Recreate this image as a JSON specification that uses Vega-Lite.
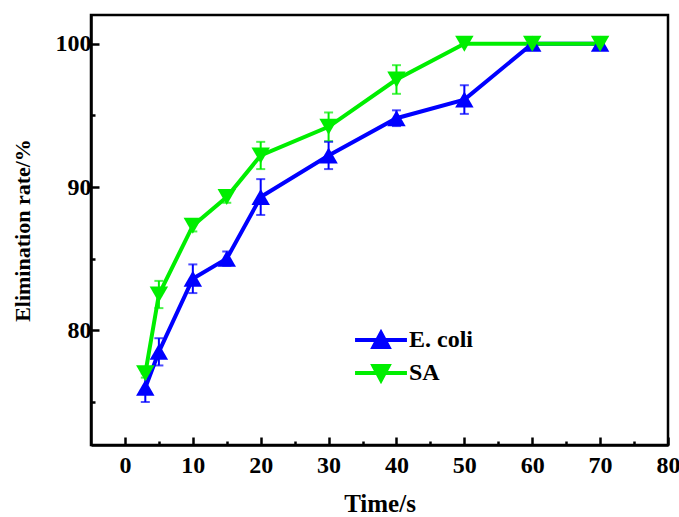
{
  "$schema": "https://vega.github.io/schema/vega-lite/v6.json",
  "width": 577,
  "height": 430,
  "autosize": {"type": "none"},
  "padding": {"left": 91, "top": 15, "right": 11, "bottom": 72},
  "background": "white",
  "config": {"view": {"stroke": "black", "strokeWidth": 2.5}, "font": "Liberation Serif"},
  "data": {
    "values": [
      {"series": "E. coli", "time": 3, "rate": 76.0, "err": 1.0},
      {"series": "E. coli", "time": 5, "rate": 78.5, "err": 0.95},
      {"series": "E. coli", "time": 10, "rate": 83.6, "err": 1.0},
      {"series": "E. coli", "time": 15, "rate": 85.0, "err": 0.5},
      {"series": "E. coli", "time": 20, "rate": 89.3, "err": 1.25},
      {"series": "E. coli", "time": 30, "rate": 92.2, "err": 0.95},
      {"series": "E. coli", "time": 40, "rate": 94.8, "err": 0.55},
      {"series": "E. coli", "time": 50, "rate": 96.1, "err": 1.0},
      {"series": "E. coli", "time": 60, "rate": 100, "err": 0},
      {"series": "E. coli", "time": 70, "rate": 100, "err": 0},
      {"series": "SA", "time": 3, "rate": 77.0, "err": 0.3},
      {"series": "SA", "time": 5, "rate": 82.5, "err": 0.95},
      {"series": "SA", "time": 10, "rate": 87.3, "err": 0.4},
      {"series": "SA", "time": 15, "rate": 89.3, "err": 0.4},
      {"series": "SA", "time": 20, "rate": 92.2, "err": 0.95},
      {"series": "SA", "time": 30, "rate": 94.2, "err": 1.0},
      {"series": "SA", "time": 40, "rate": 97.5, "err": 1.0},
      {"series": "SA", "time": 50, "rate": 100, "err": 0},
      {"series": "SA", "time": 60, "rate": 100, "err": 0},
      {"series": "SA", "time": 70, "rate": 100, "err": 0}
    ]
  },
  "encoding": {
    "x": {
      "field": "time",
      "type": "quantitative",
      "scale": {"domain": [-5, 80], "nice": false, "zero": false},
      "axis": {
        "title": "Time/s",
        "values": [0, 5, 10, 15, 20, 25, 30, 35, 40, 45, 50, 55, 60, 65, 70, 75, 80],
        "labelExpr": "datum.value % 10 === 0 ? datum.label : ''",
        "tickSize": {"condition": {"test": "datum.value % 10 === 0", "value": -8}, "value": -4},
        "tickWidth": 2.5,
        "tickColor": "black",
        "domainColor": "black",
        "domainWidth": 2.5,
        "grid": false,
        "labelFont": "Liberation Serif",
        "labelFontWeight": "bold",
        "labelFontSize": 24,
        "labelColor": "black",
        "labelPadding": 16,
        "labelFlush": false,
        "labelOverlap": false,
        "titleFont": "Liberation Serif",
        "titleFontWeight": "bold",
        "titleFontSize": 25,
        "titleColor": "black",
        "titlePadding": 10
      }
    },
    "y": {
      "field": "rate",
      "type": "quantitative",
      "scale": {"domain": [72, 102], "nice": false, "zero": false},
      "axis": {
        "title": "Elimination rate/%",
        "values": [75, 80, 85, 90, 95, 100],
        "labelExpr": "datum.value % 10 === 0 ? datum.label : ''",
        "tickSize": {"condition": {"test": "datum.value % 10 === 0", "value": -8}, "value": -4},
        "tickWidth": 2.5,
        "tickColor": "black",
        "domainColor": "black",
        "domainWidth": 2.5,
        "grid": false,
        "labelFont": "Liberation Serif",
        "labelFontWeight": "bold",
        "labelFontSize": 24,
        "labelColor": "black",
        "labelPadding": 8,
        "labelFlush": false,
        "labelOverlap": false,
        "titleFont": "Liberation Serif",
        "titleFontWeight": "bold",
        "titleFontSize": 22,
        "titleColor": "black",
        "titlePadding": 21
      }
    },
    "color": {
      "field": "series",
      "type": "nominal",
      "scale": {"domain": ["E. coli", "SA"], "range": ["#0000ff", "#00ee00"]},
      "legend": {
        "orient": "none",
        "legendX": 273,
        "legendY": 308,
        "title": null,
        "padding": 0,
        "symbolSize": 900,
        "symbolStrokeWidth": 4,
        "symbolOpacity": 1,
        "symbolType": {"expr": "datum.value === 'E. coli' ? 'M-1.73,0H1.73M-0.5,0.47L0,-0.47L0.5,0.47Z' : 'M-1.73,0H1.73M-0.5,-0.47L0,0.47L0.5,-0.47Z'"},
        "symbolStrokeColor": {"expr": "datum.value === 'E. coli' ? '#0000ff' : '#00ee00'"},
        "symbolFillColor": {"expr": "datum.value === 'E. coli' ? '#0000ff' : '#00ee00'"},
        "labelFont": "Liberation Serif",
        "labelFontWeight": "bold",
        "labelFontSize": 24,
        "labelColor": "black",
        "labelOffset": 11,
        "rowPadding": 0
      }
    }
  },
  "layer": [
    {
      "mark": {"type": "errorbar", "thickness": 2, "ticks": {"size": 9, "thickness": 2}},
      "encoding": {
        "yError": {"field": "err"}
      }
    },
    {
      "mark": {"type": "line", "strokeWidth": 4},
      "encoding": {}
    },
    {
      "transform": [{"filter": "datum.series === 'E. coli'"}],
      "mark": {"type": "point", "filled": true, "size": 340, "opacity": 1, "shape": "triangle-up"},
      "encoding": {}
    },
    {
      "transform": [{"filter": "datum.series === 'SA'"}],
      "mark": {"type": "point", "filled": true, "size": 340, "opacity": 1, "shape": "triangle-down"},
      "encoding": {}
    }
  ]
}
